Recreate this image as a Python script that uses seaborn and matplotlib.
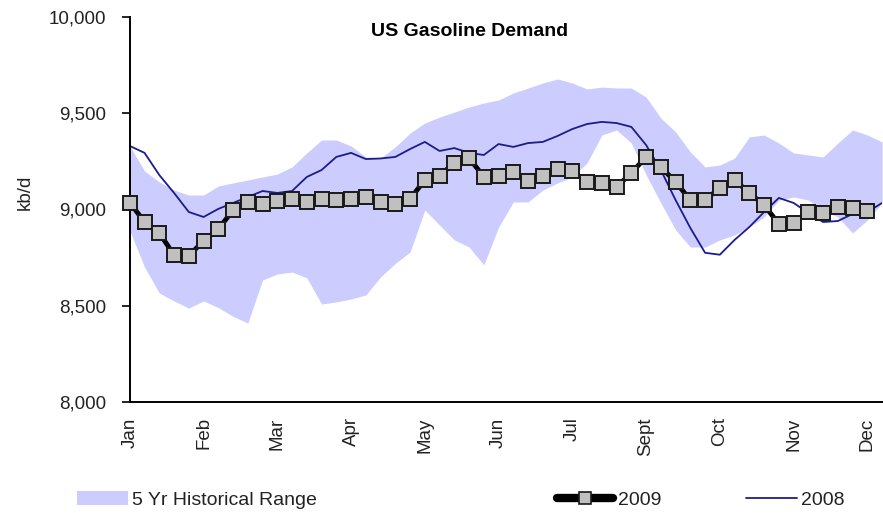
import matplotlib
matplotlib.use("Agg")
import matplotlib.pyplot as plt
import seaborn as sns
import numpy as np
from matplotlib.patches import Patch
from matplotlib.lines import Line2D
from matplotlib.ticker import StrMethodFormatter

# weekly values, kb/d
demand_2009 = [9036, 8935, 8878, 8764, 8760, 8836, 8898, 8997, 9039, 9029,
               9044, 9055, 9039, 9055, 9050, 9055, 9065, 9040, 9029, 9055,
               9153, 9176, 9242, 9267, 9170, 9174, 9195, 9148, 9174, 9210,
               9200, 9143, 9137, 9117, 9190, 9273, 9221, 9143, 9049, 9049,
               9112, 9153, 9086, 9023, 8925, 8930, 8987, 8982, 9013, 9008,
               8992]
demand_2008 = [9330, 9294, 9179, 9086, 8987, 8961, 9003, 9034, 9065, 9096,
               9086, 9096, 9169, 9205, 9273, 9294, 9262, 9265, 9273, 9314,
               9351, 9304, 9319, 9294, 9283, 9340, 9325, 9345, 9351, 9382,
               9418, 9444, 9455, 9449, 9429, 9335, 9205, 9049, 8904, 8775,
               8765, 8842, 8909, 8987, 9060, 9034, 8982, 8935, 8940, 8977,
               8987, 9034]
range_high = [9330, 9200, 9143, 9101, 9075, 9075, 9122, 9138, 9153, 9169,
              9184, 9221, 9294, 9361, 9361, 9330, 9273, 9267, 9325, 9397,
              9449, 9480, 9506, 9532, 9553, 9569, 9605, 9631, 9657, 9678,
              9657, 9626, 9636, 9631, 9631, 9584, 9475, 9403, 9299, 9221,
              9231, 9267, 9377, 9387, 9345, 9294, 9283, 9273, 9345, 9413,
              9387, 9351]
range_low = [8890, 8701, 8566, 8525, 8488, 8525, 8490, 8445, 8410, 8634,
             8665, 8675, 8645, 8509, 8520, 8535, 8556, 8650, 8720, 8779,
             8997, 8919, 8842, 8805, 8712, 8909, 9039, 9039, 9101, 9138,
             9169, 9242, 9387, 9413, 9345, 9180, 9034, 8894, 8805, 8805,
             8842, 8868, 8909, 8961, 9049, 9065, 9049, 8997, 8961, 8878,
             8945, 9034]
month_ticks = [0, 5, 10, 15, 20, 25, 30, 35, 40, 45, 50]
month_labels = ["Jan", "Feb", "Mar", "Apr", "May", "Jun", "Jul", "Sept",
                "Oct", "Nov", "Dec"]

BAND = "#ccccff"
NAVY = "#1c1c8c"
GREY = "#c0c0c0"

sns.set_theme(style="white")
plt.rcParams["font.family"] = ["Liberation Sans", "DejaVu Sans"]

fig = plt.figure(figsize=(8.83, 5.13), dpi=100)
ax = fig.add_axes([0.147, 0.2164, 0.852, 0.7505])

weeks_all = np.arange(len(range_high))
ax.fill_between(weeks_all, range_low, range_high, color=BAND, lw=0, zorder=1)

sns.lineplot(x=np.arange(len(demand_2008)), y=demand_2008, color=NAVY,
             lw=1.3, ax=ax, zorder=2)
sns.lineplot(x=np.arange(len(demand_2009)), y=demand_2009, color="black",
             lw=3.5, marker="s", markersize=10.5, markerfacecolor=GREY,
             markeredgecolor="#1a1a1a", markeredgewidth=1.4, ax=ax,
             zorder=5, clip_on=False)

ax.set_xlim(0, 51)
ax.set_ylim(8000, 10000)
ax.set_yticks([8000, 8500, 9000, 9500, 10000])
ax.yaxis.set_major_formatter(StrMethodFormatter("{x:,.0f}"))
ax.set_xticks(month_ticks)
ax.set_xticklabels(month_labels, rotation=90)
ax.tick_params(axis="y", left=True, length=6, width=1.2, color="black",
               pad=11, labelsize=13.5, labelcolor="#222222")
ax.tick_params(axis="x", bottom=False, length=0, pad=11, labelsize=13.5,
               labelcolor="#222222")
ax.set_xlabel("")
ax.set_ylabel("")
sns.despine(ax=ax)
for side in ("left", "bottom"):
    ax.spines[side].set_color("black")
    ax.spines[side].set_linewidth(1.4)

fig.text(470 / 883, 1 - 32 / 513, "US Gasoline Demand", ha="center",
         va="center", fontsize=14, fontweight="bold", color="black")
fig.text(25 / 883, 1 - 192 / 513, "kb/d", rotation=90, ha="center",
         va="center", fontsize=13.5, color="#222222")

# legend row under the chart
leg_y = 1 - 500 / 513
entries = [
    (Patch(facecolor=BAND, edgecolor="none"), "5 Yr Historical Range",
     77, 2.6),
    (Line2D([], [], color="black", lw=6, marker="s", markersize=9,
            markerfacecolor=GREY, markeredgecolor="#1a1a1a",
            markeredgewidth=1.2), "2009", 557, 2.9),
    (Line2D([], [], color=NAVY, lw=1.3), "2008", 746, 2.6),
]
for handle, label, x0, hlen in entries:
    leg = fig.legend([handle], [label], loc="center left",
                     bbox_to_anchor=(x0 / 883, leg_y), frameon=False,
                     fontsize=14, borderpad=0, borderaxespad=0,
                     handlelength=hlen, handletextpad=0.25, numpoints=1)
    for t in leg.get_texts():
        t.set_color("#222222")

fig.savefig("out.png", dpi=100)
